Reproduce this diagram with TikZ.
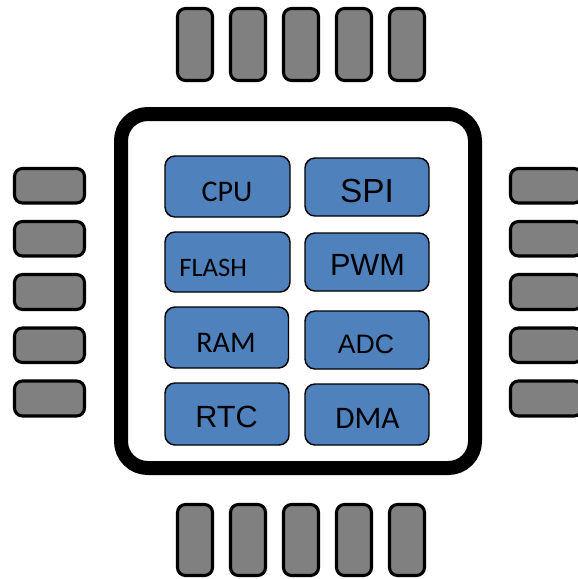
\documentclass[tikz,border=0pt]{standalone}
\usepackage{fontspec}
\newfontfamily\calibri{Carlito}
\newfontfamily\arial{Liberation Sans}
\definecolor{blkblue}{HTML}{4F81BD}
\definecolor{pingray}{HTML}{808080}

\begin{document}
\begin{tikzpicture}[x=0.75pt,y=0.75pt,yscale=-1,xscale=1,
  pin/.style={draw=black,fill=pingray,line width=2.3pt,rounded corners=6pt},
  blk/.style={draw=black,fill=blkblue,line width=1.1pt,rounded corners=7.5pt},
  frame/.style={draw=black,fill=white,line width=10.5pt,rounded corners=20pt}]
\useasboundingbox (0,0) rectangle (578,579);

%Shape: Chip body
\draw[frame] (121,114) rectangle (475,468);

%Shape: Top pins
\draw[pin] (177.5,8.5) rectangle (212.5,80.5);
\draw[pin] (230.5,8.5) rectangle (265.5,80.5);
\draw[pin] (283.5,8.5) rectangle (318.5,80.5);
\draw[pin] (336.5,8.5) rectangle (371.5,80.5);
\draw[pin] (389.5,8.5) rectangle (424.5,80.5);
%Shape: Bottom pins
\draw[pin] (177.5,504.5) rectangle (212.5,575.5);
\draw[pin] (230.5,504.5) rectangle (265.5,575.5);
\draw[pin] (283.5,504.5) rectangle (318.5,575.5);
\draw[pin] (336.5,504.5) rectangle (371.5,575.5);
\draw[pin] (389.5,504.5) rectangle (424.5,575.5);
%Shape: Left pins
\draw[pin] (14.5,168.5) rectangle (84.5,203);
\draw[pin] (14.5,221.5) rectangle (84.5,256);
\draw[pin] (14.5,274.5) rectangle (84.5,309.5);
\draw[pin] (14.5,328) rectangle (84.5,362.5);
\draw[pin] (14.5,381) rectangle (84.5,416);
%Shape: Right pins
\draw[pin] (510.5,168.5) rectangle (582,203);
\draw[pin] (510.5,221.5) rectangle (582,256);
\draw[pin] (510.5,274.5) rectangle (582,309.5);
\draw[pin] (510.5,328) rectangle (582,362.5);
\draw[pin] (510.5,381) rectangle (582,416);

%Shape: Blocks
\draw[blk] (165,156) rectangle (290,217);
\draw[blk] (305,158) rectangle (429,216);
\draw[blk] (165,232) rectangle (290,292);
\draw[blk] (305,233) rectangle (429,291);
\draw[blk] (165,307) rectangle (288.5,368);
\draw[blk] (305,311) rectangle (429,369);
\draw[blk] (165,383) rectangle (289,445);
\draw[blk] (305,384) rectangle (429,445);

% Text Node
\draw (227,201) node (cpu) [anchor=base,font=\calibri\fontsize{22.5}{27}\selectfont] {CPU};
% Text Node
\draw (367,202) node (spi) [anchor=base,font=\arial\fontsize{25}{30}\selectfont] {SPI};
% Text Node
\draw (179,276) node (flash) [anchor=base west,inner sep=0pt,font=\calibri\fontsize{20}{24}\selectfont] {FLASH};
% Text Node
\draw (367.5,275) node (pwm) [anchor=base,font=\arial\fontsize{23}{27}\selectfont] {PWM};
% Text Node
\draw (226,352) node (ram) [anchor=base,font=\calibri\fontsize{22.5}{27}\selectfont] {RAM};
% Text Node
\draw (366,353) node (adc) [anchor=base,font=\arial\fontsize{20}{24}\selectfont] {ADC};
% Text Node
\draw (226.5,427) node (rtc) [anchor=base,font=\arial\fontsize{23}{27}\selectfont] {RTC};
% Text Node
\draw (367.5,428) node (dma) [anchor=base,font=\calibri\fontsize{23.5}{28}\selectfont] {DMA};
\end{tikzpicture}
\end{document}
